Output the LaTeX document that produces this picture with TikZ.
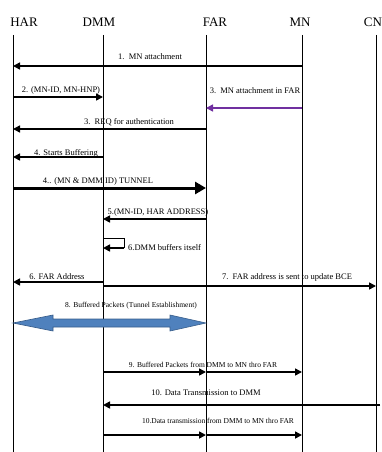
\documentclass[tikz,border=0pt]{standalone}
\usepackage{fontspec}
\setmainfont{Liberation Serif}
\usetikzlibrary{arrows.meta}
\definecolor{attachpurple}{HTML}{7030A0}
\definecolor{tunnelblue}{HTML}{4F81BD}
\definecolor{tunneledge}{HTML}{385D8A}
\tikzset{
    head/.style={anchor=base, inner sep=0pt, font=\fontsize{13}{15}\selectfont},
    life/.style={line width=0.8pt},
    msg/.style={line width=1.6pt, -{Triangle[length=7pt,width=7pt]}},
    lbl/.style={anchor=base, inner sep=0pt, font=\fontsize{8.5}{10}\selectfont},
    lbls/.style={lbl, font=\fontsize{7.5}{9}\selectfont},
}

\begin{document}
\begin{tikzpicture}[x=1pt, y=-1pt]
    \useasboundingbox (0,0) rectangle (382,452);

    % Entities and their lifelines
    \node[head] (har) at (24,27) {HAR};
    \node[head] (dmm) at (99,27) {DMM};
    \node[head] (far) at (215,27) {FAR};
    \node[head] (mn) at (300,27) {MN};
    \node[head] (cn) at (373,27) {CN};
    \foreach \n/\x in {har/13, dmm/103, far/206, mn/302, cn/376} {
        \coordinate (\n L) at (\x,35);
        \coordinate (\n E) at (\x,452);
        \draw[life] (\n L) -- (\n E);
    }

    % Message rows
    \foreach \r/\y in {1/66, 2/97, 3/108, 3b/129, 4/157, 4b/188, 5/219, 6/238, 6b/248,
                       6c/282, 7/286, 8/323, 9/372, 10/405, 10b/435} {
        \coordinate (r\r) at (0,\y);
    }

    % Attachment and authentication
    \draw[msg] (mnL |- r1) -- (harL |- r1);
    \node[lbl] (l1) at (150,59.5) {1.\ \ MN attachment};
    \draw[msg] (harL |- r2) -- (dmmL |- r2);
    \node[lbl] (l2) at (61,92.5) {2. (MN-ID, MN-HNP)};
    \draw[msg, attachpurple] (mnL |- r3) -- (farL |- r3);
    \node[lbl] (l3) at (255,93) {3.\ \ MN attachment in FAR};
    \draw[msg] (farL |- r3b) -- (harL |- r3b);
    \node[lbl] (l3b) at (129,124) {3.\ \ REQ for authentication};

    % Buffering and tunnel
    \draw[msg] (dmmL |- r4) -- (harL |- r4);
    \node[lbl] (l4) at (66,155) {4. Starts Buffering};
    \draw[line width=3pt, -{Triangle[length=11pt,width=12pt]}] (harL |- r4b) -- (farL |- r4b);
    \node[lbl] (l4b) at (98,183) {4.. (MN \& DMM ID) TUNNEL};
    \draw[msg] (farL |- r5) -- (dmmL |- r5);
    \node[lbl] (l5) at (158,214) {5.(MN-ID, HAR ADDRESS)};

    % DMM buffers itself
    \coordinate (loopR) at (124,238);
    \draw[line width=0.8pt] (dmmL |- r6) -- (loopR) -- (loopR |- r6b);
    \draw[msg] (loopR |- r6b) -- (dmmL |- r6b);
    \node[lbl, anchor=base west] (l6) at (128,250) {6.DMM buffers itself};

    % FAR address
    \draw[msg] (dmmL |- r6c) -- (harL |- r6c);
    \node[lbl] (l6c) at (57,279) {6. FAR Address};
    \draw[msg] (dmmL |- r7) -- (cnL |- r7);
    \node[lbl] (l7) at (287,279) {7.\ \ FAR address is sent to update BCE};

    % Buffered packets through the tunnel
    \draw[fill=tunnelblue, draw=tunneledge, line width=0.6pt]
        (harL |- r8) -- ++(40,-8) -- ++(0,4) -- ++(117,0) -- ++(0,-4) -- (farL |- r8)
        -- ++(-36,8) -- ++(0,-4) -- ++(-117,0) -- ++(0,4) -- cycle;
    \node[lbls] (l8) at (131,307) {8. Buffered Packets (Tunnel Establishment)};

    % Data delivery
    \draw[msg] (dmmL |- r9) -- (farL |- r9);
    \draw[msg] (farL |- r9) -- (mnL |- r9);
    \node[lbls] (l9) at (203,367) {9. Buffered Packets from DMM to MN thro FAR};
    \draw[msg] ([xshift=4pt]cnL |- r10) -- (dmmL |- r10);
    \node[lbl] (l10) at (206,395) {10. Data Transmission to DMM};
    \draw[msg] (dmmL |- r10b) -- (farL |- r10b);
    \draw[msg] (farL |- r10b) -- (mnL |- r10b);
    \node[lbls] (l10b) at (218,423) {10.Data transmission from DMM to MN thro FAR};
\end{tikzpicture}
\end{document}
